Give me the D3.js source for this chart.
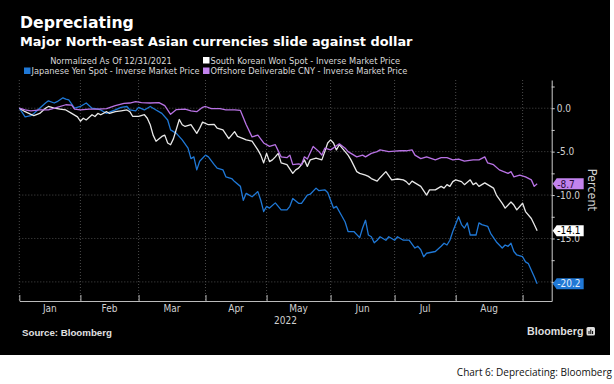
<!DOCTYPE html>
<html>
<head>
<meta charset="utf-8">
<script src="https://cdn.jsdelivr.net/npm/d3@7"></script>
<style>
  body { margin: 0; background: #fff; }
  svg text { font-family: "DejaVu Sans Condensed", "DejaVu Sans", sans-serif; font-stretch: condensed; }
  .bold { font-family: "Liberation Sans", Arial, sans-serif !important; font-stretch: normal !important; font-weight: bold; }
</style>
</head>
<body>
<div id="chart"></div>
<script>
// texts
const title = 'Depreciating'
const subtitle = 'Major North-east Asian currencies slide against dollar'
const legendNote = 'Normalized As Of 12/31/2021'
const seriesNames = [
  'Japanese Yen Spot - Inverse Market Price',
  'South Korean Won Spot - Inverse Market Price',
  'Offshore Deliverable CNY - Inverse Market Price'
]
const months = ['Jan', 'Feb', 'Mar', 'Apr', 'May', 'Jun', 'Jul', 'Aug']
const yearLabel = '2022'
const yTickValues = [2.5, 0, -2.5, -5, -7.5, -10, -12.5, -15, -17.5, -20]
const yTickLabels = [0, -5, -10, -15]

// [trading day since 12/31/2021, % change]
const jpy = [[0,0],[2,-1.0],[4,-0.85],[5,-0.6],[7,0],[9,0.6],[10,0.85],[12,0.6],[13,0.75],[15,1.2],[16,1.05],[17,0.95],
  [19,0],[21,0.2],[23,0.6],[25,0],[27,-0.1],[28,-0.2],[30,-0.6],[31,-0.45],[33,-0.2],[35,0.1],[37,0.2],[38,-0.2],[40,-0.3],
  [41,0.1],[43,-0.2],[45,0.2],[47,-0.2],[49,-0.6],[51,-1.35],[52,-2.5],[54,-2.9],[56,-3.65],[58,-4.6],[59,-5.8],[60,-5.6],
  [61,-7.1],[62,-6.1],[64,-5.4],[65,-5.6],[67,-6.5],[68,-6.9],[70,-7.1],[71,-7.9],[73,-8.1],[74,-8.45],[76,-9.0],[77,-10.6],
  [78,-9.8],[80,-10.2],[82,-9.6],[83,-10.6],[84,-11.9],[85,-11.3],[86,-11.5],[88,-10.9],[90,-11.7],[92,-11.7],[93,-11.3],
  [94,-10.4],[96,-10.95],[97,-10.95],[99,-10.0],[100,-9.9],[102,-9.2],[103,-9.5],[105,-9.4],[106,-9.7],[107,-10.6],[108,-11.5],
  [109,-11.3],[111,-12.5],[112,-13.1],[113,-14.2],[115,-14.2],[117,-14.9],[118,-13.8],[119,-12.9],[120,-14.6],[121,-14.8],
  [122,-15.5],[123,-15.2],[124,-14.8],[126,-15.2],[127,-14.8],[129,-15.2],[130,-14.8],[132,-15.2],[134,-15.2],[136,-16.1],
  [137,-15.9],[138,-16.3],[139,-17.1],[140,-16.7],[143,-16.5],[145,-15.9],[146,-15.55],[147,-15.75],[148,-15.2],[149,-14.2],
  [151,-12.5],[152,-13.4],[153,-13.8],[154,-13.2],[155,-14.6],[157,-14.6],[158,-13.2],[159,-13.4],[161,-13.6],[162,-14.4],
  [164,-15.4],[166,-16.1],[167,-15.75],[168,-15.9],[169,-15.55],[170,-16.5],[171,-16.9],[173,-17.1],[174,-17.7],[175,-17.9],
  [177,-19.4],[178,-20.2]]

const krw = [[0,0],[2,-0.4],[4,-0.7],[5,-0.85],[7,-0.6],[9,0],[10,0.2],[12,0],[14,-0.1],[16,-0.2],[18,-0.6],[20,-1.0],
  [21,-1.5],[22,-1.15],[23,-1.35],[25,-0.75],[26,-0.95],[27,-0.6],[28,-0.75],[30,-0.4],[31,-0.6],[33,-0.4],[35,-0.3],[37,-0.2],
  [38,-0.4],[39,-0.95],[41,-0.95],[43,-0.75],[44,-1.15],[45,-1.9],[46,-3.1],[47,-3.8],[49,-3.25],[50,-3.1],[51,-4.0],[52,-4.2],
  [53,-3.5],[55,-1.3],[56,-1.9],[57,-2.1],[59,-1.9],[61,-2.9],[62,-2.3],[63,-1.6],[65,-1.9],[67,-1.85],[68,-2.3],[70,-2.5],
  [72,-3.5],[73,-3.1],[74,-2.7],[75,-3.25],[77,-3.5],[78,-3.65],[80,-3.8],[82,-4.8],[83,-5.4],[84,-6.3],[85,-5.2],[86,-6.15],
  [87,-5.95],[88,-5.6],[89,-5.2],[90,-6.3],[92,-6.5],[94,-7.5],[95,-7.1],[96,-6.9],[97,-6.5],[98,-5.95],[99,-6.7],[100,-5.95],
  [102,-5.75],[104,-5.95],[105,-5.0],[106,-4.0],[107,-3.65],[108,-4.0],[109,-4.8],[110,-4.2],[112,-5.0],[113,-5.4],[114,-5.95],
  [116,-7.3],[117,-7.5],[119,-7.7],[120,-7.85],[121,-8.1],[123,-8.4],[124,-8.0],[126,-7.3],[128,-8.25],[130,-8.15],[132,-8.25],
  [133,-8.45],[134,-8.8],[135,-8.4],[137,-8.8],[138,-9.0],[140,-10.0],[141,-9.4],[143,-9.4],[145,-9.0],[146,-9.2],[147,-8.8],
  [148,-9.0],[149,-8.45],[150,-8.25],[152,-8.45],[153,-8.8],[155,-8.25],[156,-8.8],[157,-8.6],[158,-9.0],[160,-8.6],[161,-8.8],
  [163,-9.2],[164,-10.0],[166,-10.95],[167,-11.5],[169,-10.8],[170,-11.15],[171,-11.7],[173,-10.95],[174,-11.9],[176,-12.7],
  [177,-13.4],[178,-14.1]]

const cnh = [[0,0],[2,-0.2],[4,-0.3],[7,-0.2],[10,-0.2],[13,0.1],[16,0.4],[18,0.35],[19,-0.1],[21,-0.2],[24,-0.1],[27,-0.1],
  [30,-0.05],[33,0.3],[36,0.55],[38,0.6],[40,0.75],[42,0.65],[45,0.6],[48,0.65],[50,0.3],[52,-0.7],[54,-0.15],[57,-0.1],
  [59,-0.3],[61,-0.4],[63,0.1],[64,0.2],[66,-0.05],[69,-0.05],[71,-0.2],[74,-0.2],[76,-0.25],[78,-1.9],[80,-3.3],[82,-3.1],
  [84,-4.0],[86,-4.4],[88,-4.2],[90,-5.6],[92,-5.7],[93,-5.4],[94,-6.5],[96,-6.4],[97,-6.5],[98,-5.6],[99,-5.85],[101,-4.4],
  [103,-5.0],[104,-5.4],[105,-4.6],[107,-4.8],[110,-4.1],[112,-4.6],[113,-5.0],[116,-5.6],[118,-5.4],[119,-5.6],[121,-5.2],
  [123,-5.0],[124,-4.8],[127,-5.0],[129,-4.95],[131,-4.9],[133,-4.9],[135,-4.8],[136,-5.4],[138,-5.8],[140,-5.6],[143,-5.95],
  [145,-5.7],[147,-5.7],[149,-5.95],[151,-5.85],[153,-6.1],[156,-5.95],[158,-5.95],[160,-5.6],[161,-6.3],[163,-6.5],[165,-7.1],
  [168,-7.5],[169,-7.3],[170,-7.9],[172,-7.7],[174,-7.9],[176,-8.25],[177,-9.0],[178,-8.7]]

const series = [
  { name: seriesNames[0], data: jpy, color: '#1f78d6', labelFill: '#1f78d6', labelText: '#e4eefa' },
  { name: seriesNames[1], data: krw, color: '#e8e8e8', labelFill: '#ffffff', labelText: '#000000' },
  { name: seriesNames[2], data: cnh, color: '#b872e4', labelFill: '#c283ee', labelText: '#2a0a3a' }
]

// trading days (weekdays) from 12/31/2021
const tradingDays = d3.timeDay.range(new Date(2021, 11, 31), new Date(2022, 8, 16))
  .filter(d => d.getDay() !== 0 && d.getDay() !== 6)
// tick at the last trading day of each previous month
const monthTicks = []
tradingDays.forEach((d, i) => {
  const next = tradingDays[i + 1]
  if (i === 0 || (next && next.getMonth() !== d.getMonth())) monthTicks.push(i)
})

const width = 614
const height = 384
const panelW = 610
const panelH = 355
const plot = { left: 19.3, right: 551.7, top: 80, bottom: 301 }

const svg = d3.select('#chart').append('svg')
  .attr('width', width)
  .attr('height', height)

svg.append('rect')
  .attr('width', panelW)
  .attr('height', panelH)
  .attr('fill', '#000')

// heading
svg.append('text').attr('x', 20).attr('y', 28)
  .attr('fill', '#fff').attr('font-size', 15.7).attr('font-weight', 'bold')
  .style('font-family', '"DejaVu Sans", sans-serif').style('font-stretch', 'normal')
  .text(title)
svg.append('text').attr('x', 20).attr('y', 45.5)
  .attr('fill', '#fff').attr('font-size', 12.9).attr('font-weight', 'bold')
  .style('font-family', '"DejaVu Sans", sans-serif').style('font-stretch', 'normal')
  .text(subtitle)

// legend
const legend = svg.append('g').attr('font-size', 9.2).attr('fill', '#d8d8d8')
legend.append('text').attr('x', 111).attr('y', 63.5).attr('text-anchor', 'middle').text(legendNote)
const legendPos = [[24, 74], [203, 63.5], [203, 74]]
series.forEach((s, i) => {
  const [lx, ly] = legendPos[i]
  legend.append('rect').attr('x', lx).attr('y', ly - 6.5).attr('width', 6.5).attr('height', 6.5).attr('fill', s.labelFill)
  legend.append('text').attr('x', lx + 7.5).attr('y', ly).text(s.name)
})

const xScale = d3.scaleLinear().domain([0, 183]).range([plot.left, plot.right])
const yScale = d3.scaleLinear().domain([-22.2, 3.25]).range([plot.bottom, plot.top])

// grid
const grid = svg.append('g').attr('stroke', '#4a4a4a').attr('stroke-dasharray', '1,2').attr('stroke-width', 1)
grid.selectAll('.gx').data(monthTicks).enter().append('line')
  .attr('x1', d => xScale(d)).attr('x2', d => xScale(d))
  .attr('y1', plot.top).attr('y2', plot.bottom)
grid.selectAll('.gy').data(yTickValues.filter(v => v % 5 === 0)).enter().append('line')
  .attr('x1', plot.left).attr('x2', plot.right)
  .attr('y1', d => yScale(d)).attr('y2', d => yScale(d))

// x axis
const xAxis = d3.axisBottom(xScale).tickValues(monthTicks).tickFormat('').tickSize(-6).tickSizeOuter(0)
const gx = svg.append('g').attr('transform', `translate(0, ${plot.bottom})`).call(xAxis)
gx.selectAll('path, line').attr('stroke', '#bbb')

svg.append('g').attr('font-size', 10).attr('fill', '#d0d0d0').attr('text-anchor', 'middle')
  .selectAll('text').data(months).enter().append('text')
  .attr('x', (d, i) => (xScale(monthTicks[i]) + xScale(monthTicks[i + 1])) / 2)
  .attr('y', 312)
  .text(d => d)
svg.append('text').attr('x', (plot.left + plot.right) / 2).attr('y', 324)
  .attr('text-anchor', 'middle').attr('font-size', 10).attr('fill', '#d0d0d0').text(yearLabel)

// y axis on the right
const yAxis = d3.axisRight(yScale).tickValues(yTickValues)
  .tickFormat(d => yTickLabels.includes(d) ? d.toFixed(1) : '').tickSize(3).tickSizeOuter(0)
const gy = svg.append('g').attr('transform', `translate(${plot.right}, 0)`).call(yAxis)
gy.select('.domain').attr('stroke', '#ccc')
gy.selectAll('line').attr('stroke', '#ccc')
gy.selectAll('text').attr('fill', '#d0d0d0').attr('font-size', 10).attr('x', 5)
  .style('font-family', '"DejaVu Sans Condensed", "DejaVu Sans", sans-serif')

svg.append('text')
  .attr('transform', `translate(588, ${yScale(-9.4)}) rotate(90)`)
  .attr('text-anchor', 'middle').attr('font-size', 12.5).attr('fill', '#d0d0d0')
  .text('Percent')

// lines
const line = d3.line().x(d => xScale(d[0])).y(d => yScale(d[1]))
svg.append('g').selectAll('path').data(series).enter().append('path')
  .attr('d', d => line(d.data))
  .attr('fill', 'none')
  .attr('stroke', d => d.color)
  .attr('stroke-width', 1.3)
  .attr('stroke-linejoin', 'round')

// last value labels
const tags = svg.append('g').selectAll('g').data(series).enter().append('g')
  .attr('transform', d => `translate(${plot.right + 1}, ${yScale(d.data[d.data.length - 1][1])})`)
tags.append('path')
  .attr('d', 'M0,0 L4,-5.5 L31,-5.5 L31,5.5 L4,5.5 Z')
  .attr('fill', d => d.labelFill)
tags.append('text')
  .attr('x', 4.5).attr('y', 3.8).attr('font-size', 10)
  .attr('fill', d => d.labelText)
  .text(d => d.data[d.data.length - 1][1].toFixed(1))

// footer
svg.append('text').attr('class', 'bold').attr('x', 22).attr('y', 336)
  .attr('font-size', 9.7).attr('fill', '#e0e0e0').text('Source: Bloomberg')
svg.append('text').attr('class', 'bold').attr('x', 583.5).attr('y', 335)
  .attr('text-anchor', 'end').attr('font-size', 10.7).attr('fill', '#dedede').text('Bloomberg')
svg.append('rect').attr('x', 586.5).attr('y', 327).attr('width', 8.5).attr('height', 8.5)
  .attr('rx', 1.5).attr('fill', '#dedede')
svg.append('path').attr('d', 'M589,334 L589,331 M590.8,334 L590.8,329.5 M592.6,334 L592.6,331')
  .attr('stroke', '#000').attr('stroke-width', 1)

svg.append('text').attr('x', 612).attr('y', 376).attr('text-anchor', 'end')
  .attr('font-size', 10).attr('fill', '#111')
  .style('font-family', '"Open Sans", sans-serif').style('font-stretch', 'normal')
  .text('Chart 6: Depreciating: Bloomberg')
</script>
</body>
</html>
